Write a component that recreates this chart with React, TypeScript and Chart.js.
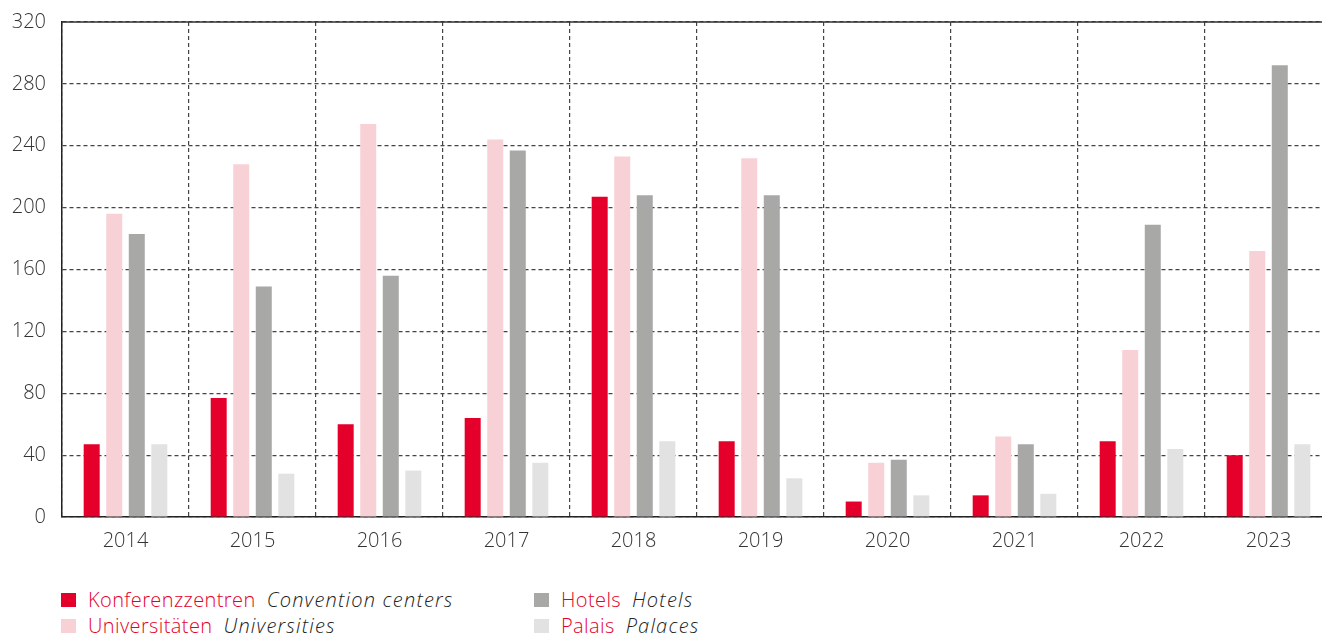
import React, { useEffect, useRef } from "react";
import { Chart, registerables } from "chart.js";
Chart.register(...registerables);

const years = ["2014", "2015", "2016", "2017", "2018", "2019", "2020", "2021", "2022", "2023"];
const convention = [47, 77, 60, 64, 207, 49, 10, 14, 49, 40];
const universities = [196, 228, 254, 244, 233, 232, 35, 52, 108, 172];
const hotels = [183, 149, 156, 237, 208, 208, 37, 47, 189, 292];
const palaces = [47, 28, 30, 35, 49, 25, 14, 15, 44, 47];
const yMin = 0;
const yMax = 320;
const yStep = 40;

const RED = "#E4002B";
const PINK = "#F8D1D7";
const GRAY = "#A8A8A7";
const LIGHT = "#E2E2E2";
const FONT = "'Open Sans', Roboto, sans-serif";

const legendItems = [
  { de: "Konferenzzentren", en: "Convention centers", color: RED },
  { de: "Universitäten", en: "Universities", color: PINK },
  { de: "Hotels", en: "Hotels", color: GRAY },
  { de: "Palais", en: "Palaces", color: LIGHT },
];

const topLine = {
  id: "topLine",
  afterDraw(chart: any) {
    const { ctx, chartArea } = chart;
    ctx.save();
    ctx.strokeStyle = "#333";
    ctx.lineWidth = 1.5;
    ctx.beginPath();
    ctx.moveTo(chartArea.left, chartArea.top);
    ctx.lineTo(chartArea.right, chartArea.top);
    ctx.stroke();
    ctx.restore();
  },
};

export default function App() {
  const ref = useRef<HTMLCanvasElement>(null);
  useEffect(() => {
    if (!ref.current) return;
    const mk = (label: string, data: number[], color: string) => ({
      label,
      data,
      backgroundColor: color,
      borderWidth: 0,
      categoryPercentage: 0.71,
      barPercentage: 0.71,
    });
    const chart = new Chart(ref.current, {
      type: "bar",
      data: {
        labels: years,
        datasets: [
          mk("Konferenzzentren", convention, RED),
          mk("Universitäten", universities, PINK),
          mk("Hotels", hotels, GRAY),
          mk("Palais", palaces, LIGHT),
        ],
      },
      options: {
        animation: false,
        responsive: false,
        devicePixelRatio: 1,
        layout: { padding: { top: 22, right: 8, left: 0, bottom: 0 } },
        plugins: { legend: { display: false }, tooltip: { enabled: false } },
        scales: {
          x: {
            grid: { color: "#444", lineWidth: 1.2, drawTicks: false, offset: true },
            border: { color: "#222", width: 1.5, dash: [4, 3] },
            ticks: { color: "#333", font: { family: FONT, size: 20, weight: "300" }, padding: 12 },
            afterFit: (s: any) => { s.height = 53; s.paddingLeft = 0; s.paddingRight = 0; },
          },
          y: {
            min: yMin,
            max: yMax,
            grid: { color: "#444", lineWidth: 1.2, drawTicks: false },
            border: { color: "#222", width: 1.5, dash: [4, 3] },
            ticks: { stepSize: yStep, color: "#333", font: { family: FONT, size: 20, weight: "300" }, padding: 16 },
            afterFit: (s: any) => { s.width = 62; s.paddingTop = 0; s.paddingBottom = 0; },
          },
        },
      },
      plugins: [topLine],
    } as any);
    return () => chart.destroy();
  }, []);

  return (
    <div style={{ position: "fixed", left: 0, top: 0, width: 1322, height: 635, overflow: "hidden", background: "#fff" }}>
      <canvas ref={ref} width={1340} height={570} style={{ position: "absolute", left: 0, top: 0 }} />
      <div
        style={{
          position: "absolute",
          left: 61,
          top: 587,
          display: "grid",
          gridTemplateColumns: "473px 300px",
          gridAutoFlow: "column",
          gridTemplateRows: "26px 26px",
          fontFamily: FONT,
          fontWeight: 300,
          fontSize: 20,
          letterSpacing: "0.4px",
          lineHeight: "26px",
        }}
      >
        {legendItems.map((it) => (
          <div key={it.de} style={{ display: "flex", alignItems: "center", whiteSpace: "nowrap" }}>
            <span style={{ display: "inline-block", width: 15, height: 14, background: it.color, marginRight: 12 }} />
            <span style={{ color: RED }}>{it.de}</span>
            <span style={{ color: "#222", fontStyle: "italic", marginLeft: 11, letterSpacing: "1.2px" }}>{it.en}</span>
          </div>
        ))}
      </div>
    </div>
  );
}
